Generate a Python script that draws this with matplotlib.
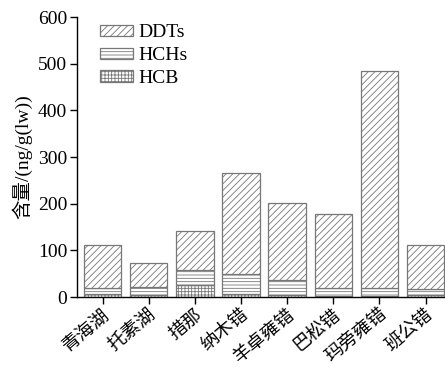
import matplotlib
matplotlib.use("Agg")
import matplotlib.pyplot as plt
import numpy as np

lakes = ["青海湖", "托素湖", "措那", "纳木错", "羊卓雍错", "巴松错", "玛旁雍错", "班公错"]
total = [112, 72, 141, 266, 202, 177, 485, 111]
hchs_top = [20, 21, 57, 49, 36, 20, 20, 17]
hcb = [7, 4, 26, 6, 5, 3, 3, 4]

hcb_v = np.array(hcb, float)
hchs_v = np.array(hchs_top, float) - hcb_v
ddts_v = np.array(total, float) - np.array(hchs_top, float)

plt.rcParams['font.family'] = ['Liberation Serif', 'Noto Sans CJK SC']
plt.rcParams['hatch.linewidth'] = 0.6
plt.rcParams['hatch.color'] = '#8a8a8a'

fig = plt.figure(figsize=(4.45, 3.68), dpi=100)
ax = fig.add_axes([77/445, 1 - 297/368, 1 - 77/445, 280/368])

x = np.arange(len(lakes))
w = 0.81
ec = '#777777'
b1 = ax.bar(x, hcb_v, w, color='white', edgecolor=ec, hatch='+++++', linewidth=0.9, label='HCB')
b2 = ax.bar(x, hchs_v, w, bottom=hcb_v, color='white', edgecolor=ec, hatch='-----', linewidth=0.9, label='HCHs')
b3 = ax.bar(x, ddts_v, w, bottom=hcb_v + hchs_v, color='white', edgecolor=ec, hatch='/////', linewidth=0.9, label='DDTs')

ax.set_xlim(-0.555, 7.42)
ax.set_ylim(0, 600)
ax.set_yticks([0, 100, 200, 300, 400, 500, 600])
ax.set_xticks(x)
ax.set_xticklabels(lakes, rotation=40, ha='right', va='top', rotation_mode='anchor', fontsize=13.3)
ax.tick_params(axis='y', labelsize=14, length=5, width=1, direction='out', pad=2)
ax.tick_params(axis='x', length=5, width=1, direction='out', pad=1.5)
for s in ['top', 'right']:
    ax.spines[s].set_visible(False)
for s in ['left', 'bottom']:
    ax.spines[s].set_linewidth(1.0)
ax.set_ylabel('含量/(ng/g(lw))', fontsize=14, labelpad=4)

leg = ax.legend([b3, b2, b1], ['DDTs', 'HCHs', 'HCB'], loc='upper left', frameon=False,
                fontsize=14, handlelength=1.7, handleheight=0.55, labelspacing=0.3,
                handletextpad=0.3, bbox_to_anchor=(0.03, 1.015), borderaxespad=0.2)

fig.savefig('out.png', dpi=100)
